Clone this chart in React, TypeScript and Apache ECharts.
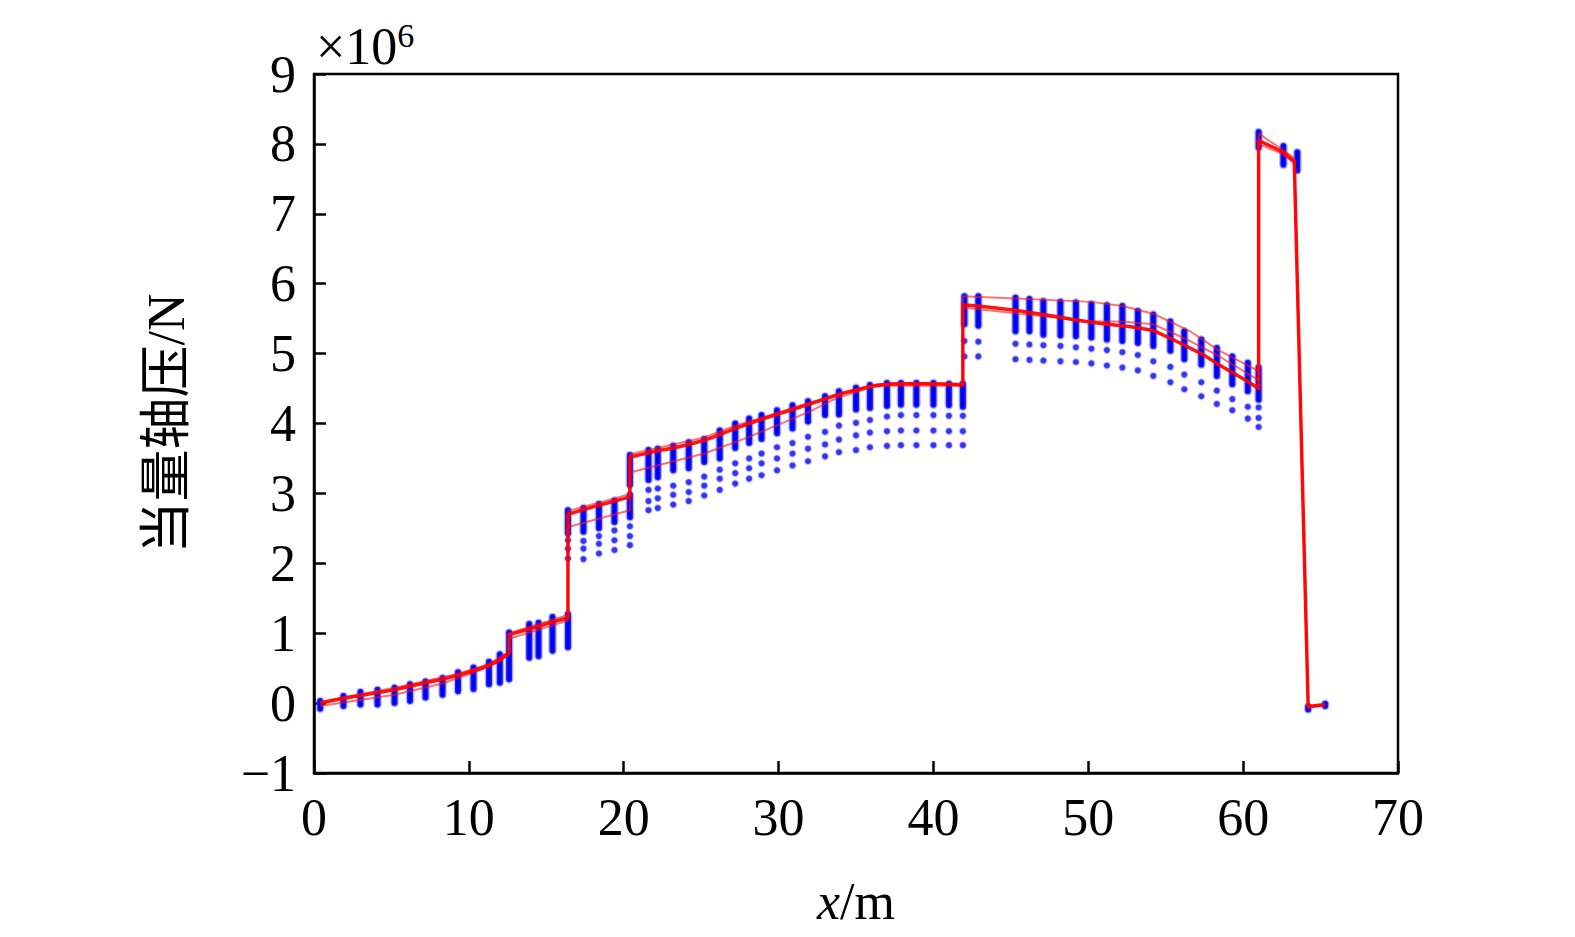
import React, { useEffect, useRef } from 'react';
import * as echarts from 'echarts';

// all forces in units of 10^6 N, x in m

// dense blue columns: [x, top, bottom]
const blueBars: number[][] = [
  [0.4, 0.03, -0.08], [1.9, 0.1, -0.04], [3.0, 0.16, -0.02], [4.1, 0.19, -0.02],
  [5.2, 0.22, 0.0], [6.2, 0.27, 0.03], [7.2, 0.31, 0.08], [8.3, 0.36, 0.12],
  [9.3, 0.44, 0.17], [10.3, 0.51, 0.2], [11.3, 0.59, 0.27], [12.0, 0.7, 0.29],
  [12.6, 1.01, 0.34], [13.9, 1.13, 0.65], [14.5, 1.15, 0.67], [15.4, 1.23, 0.75],
  [16.4, 1.27, 0.8], [16.4, 2.76, 2.45], [17.4, 2.79, 2.45], [18.4, 2.85, 2.5],
  [19.4, 2.9, 2.59], [20.4, 2.98, 2.66], [20.4, 3.55, 3.12], [21.6, 3.62, 3.19],
  [22.2, 3.64, 3.23], [23.2, 3.68, 3.33], [24.2, 3.73, 3.36], [25.2, 3.78, 3.45],
  [26.2, 3.9, 3.5], [27.2, 4.0, 3.65], [28.1, 4.07, 3.72], [28.9, 4.12, 3.78],
  [29.9, 4.19, 3.86], [30.9, 4.26, 3.93], [31.9, 4.32, 4.03], [33.0, 4.39, 4.12],
  [33.9, 4.46, 4.13], [35.0, 4.51, 4.2], [35.9, 4.55, 4.22], [37.0, 4.58, 4.25],
  [37.9, 4.58, 4.27], [38.9, 4.58, 4.27], [40.0, 4.58, 4.27], [41.0, 4.57, 4.26],
  [41.9, 4.57, 4.24], [42.0, 5.82, 5.42], [42.9, 5.82, 5.4], [45.3, 5.8, 5.32],
  [46.2, 5.78, 5.32], [47.1, 5.75, 5.27], [48.2, 5.74, 5.26], [49.2, 5.73, 5.25],
  [50.2, 5.71, 5.23], [51.2, 5.69, 5.2], [52.2, 5.68, 5.18], [53.2, 5.61, 5.15],
  [54.2, 5.56, 5.11], [55.3, 5.46, 5.04], [56.2, 5.32, 4.92], [57.3, 5.2, 4.84],
  [58.3, 5.08, 4.68], [59.3, 4.96, 4.56], [60.3, 4.87, 4.46], [61.0, 4.8, 4.34],
  [61.0, 8.17, 7.95], [62.6, 7.97, 7.7], [63.5, 7.88, 7.62],
  [64.2, -0.05, -0.09], [65.3, -0.01, -0.04],
];

// isolated blue points: [x, y1, y2, ...]
const blueDots: number[][] = [
  [16.4, 2.42, 2.33, 2.21, 2.07], [17.4, 2.32, 2.21, 2.06], [18.4, 2.39, 2.28, 2.14],
  [19.4, 2.47, 2.33, 2.19], [20.4, 2.53, 2.39, 2.26], [21.6, 3.05, 2.89, 2.76],
  [22.2, 3.07, 2.93, 2.79], [23.2, 3.11, 2.98, 2.84], [24.2, 3.16, 3.02, 2.89],
  [25.2, 3.24, 3.11, 2.97], [26.2, 3.34, 3.21, 3.05], [27.2, 3.43, 3.29, 3.14],
  [28.1, 3.5, 3.36, 3.21], [28.9, 3.57, 3.43, 3.26], [29.9, 3.66, 3.5, 3.33],
  [30.9, 3.72, 3.57, 3.4], [31.9, 3.81, 3.64, 3.46], [33.0, 3.88, 3.7, 3.53],
  [33.9, 3.97, 3.77, 3.59], [35.0, 4.01, 3.83, 3.62], [35.9, 4.05, 3.87, 3.66],
  [37.0, 4.1, 3.89, 3.68], [37.9, 4.12, 3.9, 3.69], [38.9, 4.12, 3.9, 3.69],
  [40.0, 4.12, 3.9, 3.69], [41.0, 4.11, 3.89, 3.69], [41.9, 4.11, 3.89, 3.69],
  [42.0, 5.18, 4.96], [42.9, 5.17, 4.96], [45.3, 5.14, 4.92], [46.2, 5.13, 4.91],
  [47.1, 5.12, 4.9], [48.2, 5.11, 4.89], [49.2, 5.09, 4.88], [50.2, 5.07, 4.86],
  [51.2, 5.05, 4.83], [52.2, 5.02, 4.8], [53.2, 4.98, 4.76], [54.2, 4.89, 4.68],
  [55.3, 4.81, 4.59], [56.2, 4.7, 4.49], [57.3, 4.59, 4.39], [58.3, 4.47, 4.28],
  [59.3, 4.35, 4.19], [60.3, 4.24, 4.07], [61.0, 4.23, 4.08, 3.95],
];

const redUpper: number[][] = [
  [0.4, 0.02], [5.2, 0.22], [9.3, 0.42], [11.3, 0.56], [12.0, 0.66], [12.6, 0.73],
  [12.6, 1.0], [16.4, 1.26], [16.4, 2.75], [20.4, 2.99], [20.4, 3.56], [25.2, 3.8],
  [27.2, 3.97], [28.1, 4.03], [29.9, 4.15], [32.0, 4.3], [36.3, 4.56], [37.9, 4.58],
  [41.9, 4.57], [41.9, 5.82], [45.3, 5.79], [50.2, 5.74], [52.2, 5.68], [54.2, 5.57],
  [56.5, 5.33], [58.4, 5.05], [61.0, 4.75], [61.0, 8.15], [63.3, 7.8],
  [64.2, -0.05], [65.3, -0.02],
];

const redMain: number[][] = [
  [0.4, 0.0], [1.9, 0.07], [3.0, 0.11], [4.1, 0.15], [5.2, 0.19], [6.2, 0.24],
  [7.2, 0.29], [8.3, 0.34], [9.3, 0.4], [10.3, 0.46], [11.3, 0.54], [12.0, 0.62],
  [12.6, 0.72], [12.6, 0.98], [13.9, 1.06], [14.5, 1.1], [15.4, 1.16], [16.4, 1.22],
  [16.4, 2.7], [17.4, 2.77], [18.4, 2.83], [19.4, 2.89], [20.4, 2.95], [20.4, 3.52],
  [21.6, 3.58], [22.2, 3.61], [23.2, 3.65], [24.2, 3.7], [25.2, 3.76], [26.2, 3.84],
  [27.2, 3.93], [28.1, 4.0], [28.9, 4.06], [29.9, 4.13], [30.9, 4.2], [31.9, 4.27],
  [33.0, 4.35], [33.9, 4.42], [35.0, 4.48], [35.9, 4.53], [37.0, 4.56], [37.9, 4.57],
  [38.9, 4.57], [40.0, 4.57], [41.0, 4.56], [41.9, 4.55], [41.9, 5.7], [42.9, 5.68],
  [45.3, 5.62], [46.2, 5.59], [47.1, 5.56], [48.2, 5.52], [49.2, 5.48], [50.2, 5.45],
  [51.2, 5.42], [52.2, 5.4], [53.2, 5.37], [54.2, 5.33], [55.3, 5.22], [56.2, 5.12],
  [57.3, 5.0], [58.3, 4.86], [59.3, 4.73], [60.3, 4.6], [61.0, 4.5], [61.0, 8.05],
  [62.6, 7.88], [63.3, 7.75], [64.2, -0.05], [65.3, -0.02],
];

const redLower: number[][] = [
  [0.4, -0.04], [5.2, 0.12], [8.3, 0.28], [9.3, 0.36], [11.3, 0.52], [12.0, 0.6],
  [12.6, 0.7], [12.6, 0.92], [16.4, 1.18], [16.4, 2.52], [20.4, 2.76], [20.4, 3.3],
  [25.2, 3.57], [27.9, 3.79], [32.0, 4.17], [33.7, 4.36], [36.3, 4.54], [41.9, 4.54],
  [41.9, 5.66], [50.2, 5.46], [52.2, 5.46], [54.2, 5.42], [56.2, 5.22], [58.3, 4.98],
  [61.0, 4.62], [61.0, 8.0], [62.6, 7.85], [63.3, 7.72], [64.2, -0.07], [65.3, -0.03],
];

const FONT = "'Liberation Serif', 'Times New Roman', 'Noto Sans CJK SC', serif";
const FS = 52;

const App: React.FC = () => {
  const chartRef = useRef<HTMLDivElement>(null);

  useEffect(() => {
    if (!chartRef.current) return;
    const chart = echarts.init(chartRef.current, null, { renderer: 'svg' });

    const dotData: number[][] = [];
    blueDots.forEach(row => {
      row.slice(1).forEach(y => dotData.push([row[0], y]));
    });

    const redLine = (name: string, data: number[][], width: number, color: string) => ({
      name,
      type: 'line',
      data,
      showSymbol: false,
      z: 5,
      lineStyle: { color, width, join: 'round' },
    });

    chart.setOption({
      animation: false,
      backgroundColor: '#fff',
      grid: {
        left: 314,
        right: 177,
        top: 74,
        bottom: 164,
        show: true,
        borderColor: '#000',
        borderWidth: 2.5,
      },
      graphic: [
        {
          type: 'text',
          left: 316,
          top: 18,
          style: {
            text: '×10{s|6}',
            font: `${FS}px ${FONT}`,
            fill: '#000',
            rich: {
              s: { fontSize: 34, fontFamily: FONT, verticalAlign: 'top', padding: [0, 0, 24, 0] },
            },
          },
        },
      ],
      xAxis: {
        type: 'value',
        min: 0,
        max: 70,
        interval: 10,
        name: '{i|x}/m',
        nameLocation: 'middle',
        nameGap: 102,
        nameTextStyle: {
          fontFamily: FONT,
          fontSize: FS,
          color: '#000',
          rich: { i: { fontFamily: FONT, fontSize: FS, fontStyle: 'italic', color: '#000' } },
        },
        axisLine: { onZero: false, lineStyle: { color: '#000', width: 2.5 } },
        axisTick: { inside: true, length: 12, lineStyle: { color: '#000', width: 2.5 } },
        axisLabel: { fontFamily: FONT, fontSize: FS, color: '#000', margin: 18 },
        splitLine: { show: false },
      },
      yAxis: {
        type: 'value',
        min: -1,
        max: 9,
        interval: 1,
        name: '当量轴压/N',
        nameLocation: 'middle',
        nameGap: 122,
        nameRotate: 90,
        nameTextStyle: { fontFamily: FONT, fontSize: FS, color: '#000' },
        axisLine: { onZero: false, lineStyle: { color: '#000', width: 2.5 } },
        axisTick: { inside: true, length: 12, lineStyle: { color: '#000', width: 2.5 } },
        axisLabel: {
          fontFamily: FONT,
          fontSize: FS,
          color: '#000',
          margin: 18,
          formatter: (v: number) => (v < 0 ? '\u2212' + Math.abs(v) : String(v)),
        },
        splitLine: { show: false },
      },
      series: [
        {
          name: 'bars',
          type: 'custom',
          data: blueBars,
          encode: { x: 0, y: [1, 2] },
          z: 2,
          renderItem: (_params: any, api: any) => {
            const top = api.coord([api.value(0), api.value(1)]);
            const bot = api.coord([api.value(0), api.value(2)]);
            const w = 6;
            return {
              type: 'rect',
              shape: { x: top[0] - w / 2, y: top[1] - 3, width: w, height: bot[1] - top[1] + 6, r: 3 },
              style: { fill: '#0000f0', stroke: 'rgba(70,70,255,0.4)', lineWidth: 2.5 },
            };
          },
        },
        {
          name: 'dots',
          type: 'scatter',
          data: dotData,
          symbolSize: 6,
          z: 3,
          itemStyle: { color: '#0000f0', borderColor: 'rgba(90,90,255,0.4)', borderWidth: 2 },
        },
        redLine('upper', redUpper, 2, 'rgba(255,20,20,0.6)'),
        redLine('lower', redLower, 2, 'rgba(255,20,20,0.6)'),
        redLine('main', redMain, 3.5, 'rgba(255,0,0,0.92)'),
      ],
    });

    return () => {
      chart.dispose();
    };
  }, []);

  return (
    <div
      ref={chartRef}
      style={{ position: 'fixed', left: 0, top: 0, width: 1575, height: 937, background: '#fff' }}
    />
  );
};

export default App;
